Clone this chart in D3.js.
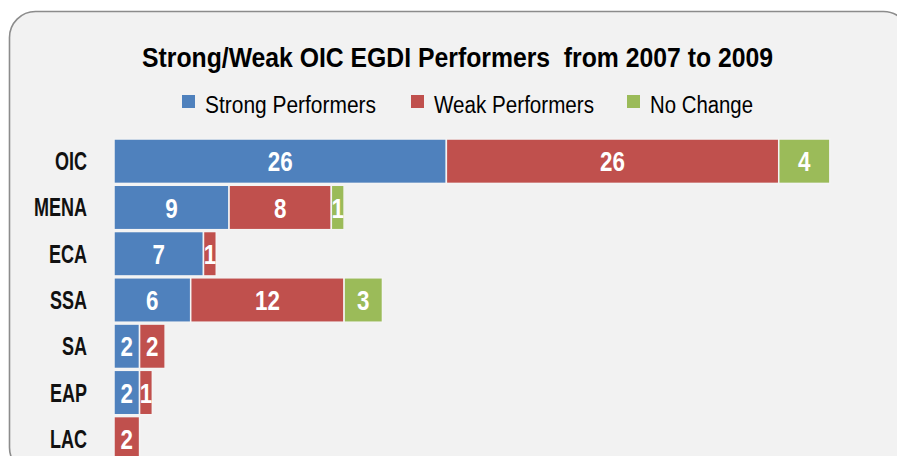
<!DOCTYPE html>
<html>
<head>
<meta charset="utf-8">
<script src="https://cdn.jsdelivr.net/npm/d3@7"></script>
<style>
  body { margin: 0; background: #ffffff; }
</style>
</head>
<body>
<script>
const regions = ['OIC', 'MENA', 'ECA', 'SSA', 'SA', 'EAP', 'LAC']
const strong = [26, 9, 7, 6, 2, 2, 0]
const weak = [26, 8, 1, 12, 2, 1, 2]
const noChange = [4, 1, 0, 3, 0, 0, 0]
const seriesNames = ['Strong Performers', 'Weak Performers', 'No Change']
const titleText = 'Strong/Weak OIC EGDI Performers  from 2007 to 2009'

const width = 897
const height = 456
const colors = ['#4f81bd', '#c0504d', '#9bbb59']
const fontFamily = "'Liberation Sans', Arial, sans-serif"

const rows = regions.map((r, i) => ({
  region: r,
  values: [strong[i], weak[i], noChange[i]]
}))

const svg = d3.select('body')
  .append('svg')
  .attr('width', width)
  .attr('height', height)
  .style('font-family', fontFamily)

// panel
svg.append('rect')
  .attr('x', 9.5)
  .attr('y', 11.5)
  .attr('width', 900)
  .attr('height', 462)
  .attr('rx', 26)
  .style('fill', '#f2f2f2')
  .style('stroke', '#8c8c8c')
  .style('stroke-width', 1.6)

svg.append('text')
  .attr('x', 142)
  .attr('y', 67)
  .style('font-size', '27px')
  .style('font-weight', 'bold')
  .style('fill', '#000')
  .style('white-space', 'pre')
  .attr('textLength', 631)
  .attr('lengthAdjust', 'spacingAndGlyphs')
  .text(titleText)

// legend
const legendX = [182, 411, 627]
const legendW = [171, 160, 103]
const legend = svg.append('g')
seriesNames.forEach((name, i) => {
  legend.append('rect')
    .attr('x', legendX[i])
    .attr('y', 95)
    .attr('width', 13)
    .attr('height', 13)
    .style('fill', colors[i])
  legend.append('text')
    .attr('x', legendX[i] + 23)
    .attr('y', 113)
    .style('font-size', '23px')
    .style('fill', '#000')
    .attr('textLength', legendW[i])
    .attr('lengthAdjust', 'spacingAndGlyphs')
    .text(name)
})

const xScale = d3.scaleLinear()
  .domain([0, 60])
  .range([114, 881])

const yScale = d3.scaleBand()
  .domain(regions)
  .range([139, 461])
  .paddingInner(0.04)
  .paddingOuter(0)

// category axis
const yAxis = d3.axisLeft(yScale).tickSize(0).tickPadding(0)
const yAxisG = svg.append('g')
  .attr('transform', 'translate(87,0)')
  .call(yAxis)
yAxisG.select('.domain').remove()
yAxisG.selectAll('text')
  .attr('x', 0)
  .attr('dy', '0.36em')
  .attr('transform', 'scale(0.72,1)')
  .style('font-family', fontFamily)
  .style('font-size', '25px')
  .style('font-weight', 'bold')
  .style('fill', '#111')

// stacked segments
const segments = []
rows.forEach(row => {
  let acc = 0
  row.values.forEach((v, k) => {
    if (v > 0) segments.push({ region: row.region, start: acc, value: v, k })
    acc += v
  })
})

const bars = svg.append('g')
bars.selectAll('rect')
  .data(segments)
  .enter()
  .append('rect')
  .attr('x', d => xScale(d.start))
  .attr('y', d => yScale(d.region))
  .attr('width', d => xScale(d.start + d.value) - xScale(d.start))
  .attr('height', yScale.bandwidth())
  .style('fill', d => colors[d.k])
  .style('stroke', '#f4f4f4')
  .style('stroke-width', 1.5)

bars.selectAll('text')
  .data(segments)
  .enter()
  .append('text')
  .attr('transform', d =>
    `translate(${xScale(d.start + d.value / 2)},${yScale(d.region) + yScale.bandwidth() / 2}) scale(0.8,1)`)
  .attr('dy', '0.36em')
  .attr('text-anchor', 'middle')
  .style('font-size', '28px')
  .style('font-weight', 'bold')
  .style('fill', '#fff')
  .text(d => d.value)
</script>
</body>
</html>
